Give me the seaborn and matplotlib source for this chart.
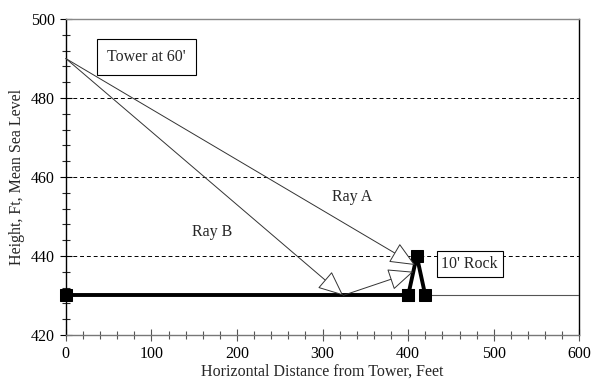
import matplotlib
matplotlib.use("Agg")
import matplotlib.pyplot as plt
import seaborn as sns
import pandas as pd
from matplotlib.ticker import MultipleLocator

# ground / rock profile
ground_x = [0, 400]
ground_y = [430, 430]
rock_x = [400, 410, 420]
rock_y = [430, 440, 430]
far_x = [420, 600]
far_y = [430, 430]

# rays
tower = (0, 490)
ray_a_end = (408, 437.7)
reflect_pt = (324, 430)
ray_b_end = (406, 436)

sns.set_style("white")
plt.rcParams["font.family"] = ["Liberation Serif", "DejaVu Serif"]

fig, ax = plt.subplots(figsize=(5.93, 3.81), dpi=100)
fig.subplots_adjust(left=0.111, right=0.977, top=0.95, bottom=0.121)

ground = pd.DataFrame({"x": ground_x, "y": ground_y})
rock = pd.DataFrame({"x": rock_x, "y": rock_y})
far = pd.DataFrame({"x": far_x, "y": far_y})

sns.lineplot(data=far, x="x", y="y", ax=ax, color="#555555", lw=0.8, zorder=3)
sns.lineplot(data=ground, x="x", y="y", ax=ax, color="black", lw=2.8,
             marker="s", ms=8, mec="black", zorder=4, clip_on=False)
sns.lineplot(data=rock, x="x", y="y", ax=ax, color="black", lw=2.8,
             marker="s", ms=8, mec="black", zorder=4, sort=False)

arrow = dict(arrowstyle="-|>,head_length=1.6,head_width=0.7", fc="white",
             ec="#333333", lw=0.7, shrinkA=0, shrinkB=0)
ax.annotate("", xy=ray_a_end, xytext=tower, arrowprops=arrow, zorder=5)
ax.annotate("", xy=reflect_pt, xytext=tower, arrowprops=arrow, zorder=5)
ax.annotate("", xy=ray_b_end, xytext=reflect_pt, arrowprops=arrow, zorder=5)

ax.text(94, 490.4, "Tower at 60'", ha="center", va="center", fontsize=11.5,
        bbox=dict(boxstyle="square,pad=0.65", fc="white", ec="black", lw=0.8))
ax.text(472, 438, "10' Rock", ha="center", va="center", fontsize=11.5,
        bbox=dict(boxstyle="square,pad=0.3", fc="white", ec="black", lw=0.8))
ax.text(334, 455, "Ray A", ha="center", va="center", fontsize=11.5)
ax.text(171, 446, "Ray B", ha="center", va="center", fontsize=11.5)

ax.set_xlim(0, 600)
ax.set_ylim(420, 500)
ax.xaxis.set_major_locator(MultipleLocator(100))
ax.xaxis.set_minor_locator(MultipleLocator(20))
ax.yaxis.set_major_locator(MultipleLocator(20))
ax.yaxis.set_minor_locator(MultipleLocator(4))
ax.tick_params(which="both", bottom=True, left=True, top=False, right=False)
ax.tick_params(which="major", direction="inout", length=8, width=0.8,
               labelsize=11.5, colors="black", pad=4)
ax.tick_params(which="minor", direction="inout", length=6, width=0.8)
ax.tick_params(axis="x", which="both", color="#555555")

for yv in [440, 460, 480]:
    ax.axhline(yv, color="black", lw=0.7, ls=(0, (4, 3)), zorder=1)

ax.spines["left"].set_color("black")
ax.spines["right"].set_color("black")
ax.spines["top"].set_color("#888888")
ax.spines["bottom"].set_color("#777777")
for s in ax.spines.values():
    s.set_linewidth(1.0)

ax.set_xlabel("Horizontal Distance from Tower, Feet", fontsize=11.5, labelpad=1)
ax.set_ylabel("Height, Ft, Mean Sea Level", fontsize=11.5, labelpad=4)

fig.savefig("out.png", dpi=100)
